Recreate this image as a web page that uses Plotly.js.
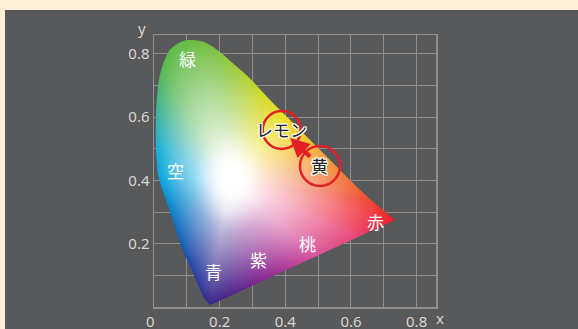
<!DOCTYPE html>
<html>
<head>
<meta charset="utf-8">
<script src="https://cdn.plot.ly/plotly-3.0.1.min.js"></script>
<style>
html,body{margin:0;padding:0;background:#fcf0d8;}
#chart{width:578px;height:329px;}
</style>
</head>
<body>
<div id="chart"></div>
<script>
// ---- data ----
const locusX = [0.171,0.150,0.117,0.084,0.046,0.016,0.008,0.005,0.008,0.018,0.039,0.059,0.089,0.120,0.161,0.205,0.232,0.292,0.353,0.435,0.536,0.638,0.734];
const locusY = [0.006,0.033,0.112,0.190,0.310,0.402,0.465,0.544,0.649,0.734,0.797,0.823,0.841,0.844,0.834,0.803,0.778,0.723,0.655,0.570,0.465,0.360,0.275];

const colorNames = ['緑','空','青','紫','桃','赤'];
const colorNameX = [0.101,0.064,0.181,0.318,0.467,0.676];
const colorNameY = [0.786,0.433,0.112,0.149,0.201,0.270];

const markedNames = ['レモン','黄'];
const markedX = [0.389,0.5056];
const markedY = [0.5597,0.4459];

const xTickVals = [0,0.1,0.2,0.3,0.4,0.5,0.6,0.7,0.8];
const xTickText = ['0\u2002','','0.2','','0.4','','0.6','','0.8'];
const yTickVals = [0.1,0.2,0.3,0.4,0.5,0.6,0.7,0.8];
const yTickText = ['','0.2','','0.4','','0.6','','0.8'];

// ---- style ----
const XR = [0,0.859], YR = [0,0.86];
const NX = 282, NY = 272;
const white = [0.235,0.40];
const coreRx = 0.12, coreRy = 0.175;
const satGamma = 1.2;
// boundary colour anchors (style)
const hueAnchors = [
  [0.171,0.006,'#36268a'],[0.13,0.08,'#2a3a9c'],[0.09,0.19,'#145ab4'],[0.04,0.32,'#0488cc'],
  [0.01,0.42,'#08a6e0'],[0.005,0.52,'#1cb0d0'],[0.01,0.63,'#3eb494'],[0.03,0.76,'#58b84c'],
  [0.10,0.84,'#66bc42'],[0.18,0.82,'#7ac040'],[0.26,0.75,'#a4cc38'],[0.33,0.68,'#d0d828'],
  [0.40,0.61,'#ebdf20'],[0.47,0.53,'#f6c22c'],[0.54,0.46,'#f49a3a'],[0.63,0.37,'#ef6436'],
  [0.73,0.275,'#ed1c24'],[0.62,0.22,'#e94676'],[0.50,0.16,'#d8549e'],[0.40,0.11,'#a83496'],
  [0.31,0.07,'#7a248e'],[0.23,0.035,'#4c248c']
];

function hex(c){return [parseInt(c.slice(1,3),16),parseInt(c.slice(3,5),16),parseInt(c.slice(5,7),16)];}

// smooth outline (Catmull-Rom through locus points, straight closing line)
function outline(xs,ys,seg){
  const n=xs.length, out=[];
  for(let i=0;i<n-1;i++){
    const i0=Math.max(i-1,0), i3=Math.min(i+2,n-1);
    for(let s=0;s<seg;s++){
      const t=s/seg,t2=t*t,t3=t2*t;
      const f=(a,b,c,d)=>0.5*(2*b+(-a+c)*t+(2*a-5*b+4*c-d)*t2+(-a+3*b-3*c+d)*t3);
      out.push([f(xs[i0],xs[i],xs[i+1],xs[i3]),f(ys[i0],ys[i],ys[i+1],ys[i3])]);
    }
  }
  out.push([xs[n-1],ys[n-1]]);
  return out;
}
const poly = outline(locusX,locusY,10);

// boundary distance table by angle from white point
const K=1440, Rtab=new Float64Array(K);
for(let k=0;k<K;k++){
  const a=-Math.PI+2*Math.PI*k/K, cx=Math.cos(a), cy=Math.sin(a);
  let best=1e9;
  for(let i=0;i<poly.length;i++){
    const p=poly[i], q=poly[(i+1)%poly.length];
    const ex=q[0]-p[0], ey=q[1]-p[1];
    const den=cx*ey-cy*ex; if(Math.abs(den)<1e-12) continue;
    const wx=p[0]-white[0], wy=p[1]-white[1];
    const r=(wx*ey-wy*ex)/den, u=(wx*cy-wy*cx)/den;
    if(r>0 && u>=0 && u<=1 && r<best) best=r;
  }
  Rtab[k]=best;
}
function Rat(a){const f=(a+Math.PI)/(2*Math.PI)*K;const k0=Math.floor(f)%K,k1=(k0+1)%K,w=f-Math.floor(f);return Rtab[k0]*(1-w)+Rtab[k1]*w;}

const anc = hueAnchors.map(a=>({ang:Math.atan2(a[1]-white[1],a[0]-white[0]),c:hex(a[2])})).sort((p,q)=>p.ang-q.ang);
function hueAt(a){
  const n=anc.length;
  for(let i=0;i<n;i++){
    const p=anc[i], q=anc[(i+1)%n];
    let a0=p.ang, a1=q.ang; if(i===n-1) a1+=2*Math.PI;
    let aa=a; if(aa<a0) aa+=2*Math.PI;
    if(aa>=a0 && aa<=a1){const w=(aa-a0)/(a1-a0);return [p.c[0]*(1-w)+q.c[0]*w,p.c[1]*(1-w)+q.c[1]*w,p.c[2]*(1-w)+q.c[2]*w];}
  }
  return anc[0].c;
}

const dx=(XR[1]-XR[0])/NX, dy=(YR[1]-YR[0])/NY;
const S=4, z=[];
for(let j=0;j<NY;j++){
  const cov=new Float64Array(NX);
  for(let s=0;s<S;s++){
    const ys=(j+(s+0.5)/S)*dy, xs=[];
    for(let i=0;i<poly.length;i++){
      const p=poly[i], q=poly[(i+1)%poly.length];
      if((p[1]<=ys&&q[1]>ys)||(q[1]<=ys&&p[1]>ys)) xs.push(p[0]+(ys-p[1])/(q[1]-p[1])*(q[0]-p[0]));
    }
    xs.sort((a,b)=>a-b);
    for(let k=0;k+1<xs.length;k+=2){
      const u0=xs[k]/dx,u1=xs[k+1]/dx;
      for(let i=Math.max(0,Math.floor(u0));i<=Math.min(NX-1,Math.floor(u1));i++){
        const ov=Math.min(u1,i+1)-Math.max(u0,i); if(ov>0) cov[i]+=ov/S;
      }
    }
  }
  const row=[];
  const yc=(j+0.5)*dy;
  for(let i=0;i<NX;i++){
    if(cov[i]<=0){row.push([0,0,0,0]);continue;}
    const xc=(i+0.5)*dx;
    const ang=Math.atan2(yc-white[1],xc-white[0]);
    const d=Math.hypot(xc-white[0],yc-white[1]);
    const t=Math.min(1,d/Rat(ang));
    let e=Math.min(1,Math.hypot((xc-white[0])/coreRx,(yc-white[1])/coreRy));
    const core=e*e*(3-2*e);
    const sat=Math.pow(t,satGamma)*core;
    const c=hueAt(ang);
    row.push([255+(c[0]-255)*sat,255+(c[1]-255)*sat,255+(c[2]-255)*sat,Math.min(1,cov[i])]);
  }
  z.push(row);
}

const gridCol='#8e8e8e', tickCol='#d6d6d6';
const tickFont={family:'Noto Sans, Open Sans, sans-serif',size:15,color:tickCol};
const jpFont='Noto Sans CJK JP, sans-serif';

const annotations=[];
colorNames.forEach((t,i)=>annotations.push({x:colorNameX[i],y:colorNameY[i],xref:'x',yref:'y',text:t,showarrow:false,
  xanchor:'center',yanchor:'middle',font:{family:jpFont,size:17,color:'#ffffff'}}));
markedNames.forEach((t,i)=>annotations.push({x:markedX[i],y:markedY[i],xref:'x',yref:'y',text:t,showarrow:false,
  xanchor:'center',yanchor:'middle',
  font:{family:jpFont,size:17,color:'#231f20',shadow:'1px 1px 0 #fff, -1px -1px 0 #fff, 1px -1px 0 #fff, -1px 1px 0 #fff, 0 1px 0 #fff, 0 -1px 0 #fff, 1px 0 0 #fff, -1px 0 0 #fff'}}));
// arrow from 黄 to レモン
const tip=[markedX[0]+0.22*(markedX[1]-markedX[0]),markedY[0]+0.22*(markedY[1]-markedY[0])];
const tail=[markedX[0]+0.78*(markedX[1]-markedX[0]),markedY[0]+0.78*(markedY[1]-markedY[0])];
annotations.push({x:tip[0],y:tip[1],ax:tail[0],ay:tail[1],xref:'x',yref:'y',axref:'x',ayref:'y',text:'',showarrow:true,
  arrowhead:2,arrowsize:0.85,arrowwidth:4.5,arrowcolor:'#e42026',standoff:0,startstandoff:0});
annotations.push({x:1.0142,y:-0.04,xref:'paper',yref:'paper',xanchor:'center',yanchor:'middle',text:'x',showarrow:false,font:{family:tickFont.family,size:15,color:tickCol}});
annotations.push({x:-0.0436,y:1.0246,xref:'paper',yref:'paper',xanchor:'center',yanchor:'middle',text:'y',showarrow:false,font:{family:tickFont.family,size:15,color:tickCol}});

const shapes=[
  {type:'rect',xref:'paper',yref:'paper',x0:-1,x1:2,y0:(307-10)/272,y1:1.5,fillcolor:'#fcf0d8',line:{width:0},layer:'below'},
  {type:'rect',xref:'paper',yref:'paper',x0:-1,x1:(5-154)/282,y0:-0.5,y1:1.5,fillcolor:'#fcf0d8',line:{width:0},layer:'below'}
];
const radii=[19,20];
markedX.forEach((x,i)=>shapes.push({type:'circle',xref:'x',yref:'y',xsizemode:'pixel',ysizemode:'pixel',
  xanchor:x,yanchor:markedY[i],x0:-radii[i],x1:radii[i],y0:-radii[i],y1:radii[i],line:{color:'#e42026',width:2.5},layer:'above'}));

const axisBase={showgrid:true,gridcolor:gridCol,gridwidth:1,showline:true,mirror:true,linecolor:gridCol,linewidth:1.5,
  zeroline:false,ticks:'',tickfont:tickFont,fixedrange:true,tickmode:'array',autorange:false};

Plotly.newPlot('chart',[{type:'image',z:z,colormodel:'rgba',x0:dx/2,y0:dy/2,dx:dx,dy:dy,hoverinfo:'skip'}],{
  width:578,height:329,
  margin:{l:154,r:142,t:35,b:22,pad:0},
  paper_bgcolor:'#58595b',plot_bgcolor:'#58595b',
  xaxis:Object.assign({},axisBase,{range:XR,tickvals:xTickVals,ticktext:xTickText}),
  yaxis:Object.assign({},axisBase,{range:YR,tickvals:yTickVals,ticktext:yTickText,scaleanchor:false}),
  shapes:shapes,annotations:annotations,showlegend:false
},{staticPlot:true,displayModeBar:false});
</script>
</body>
</html>
